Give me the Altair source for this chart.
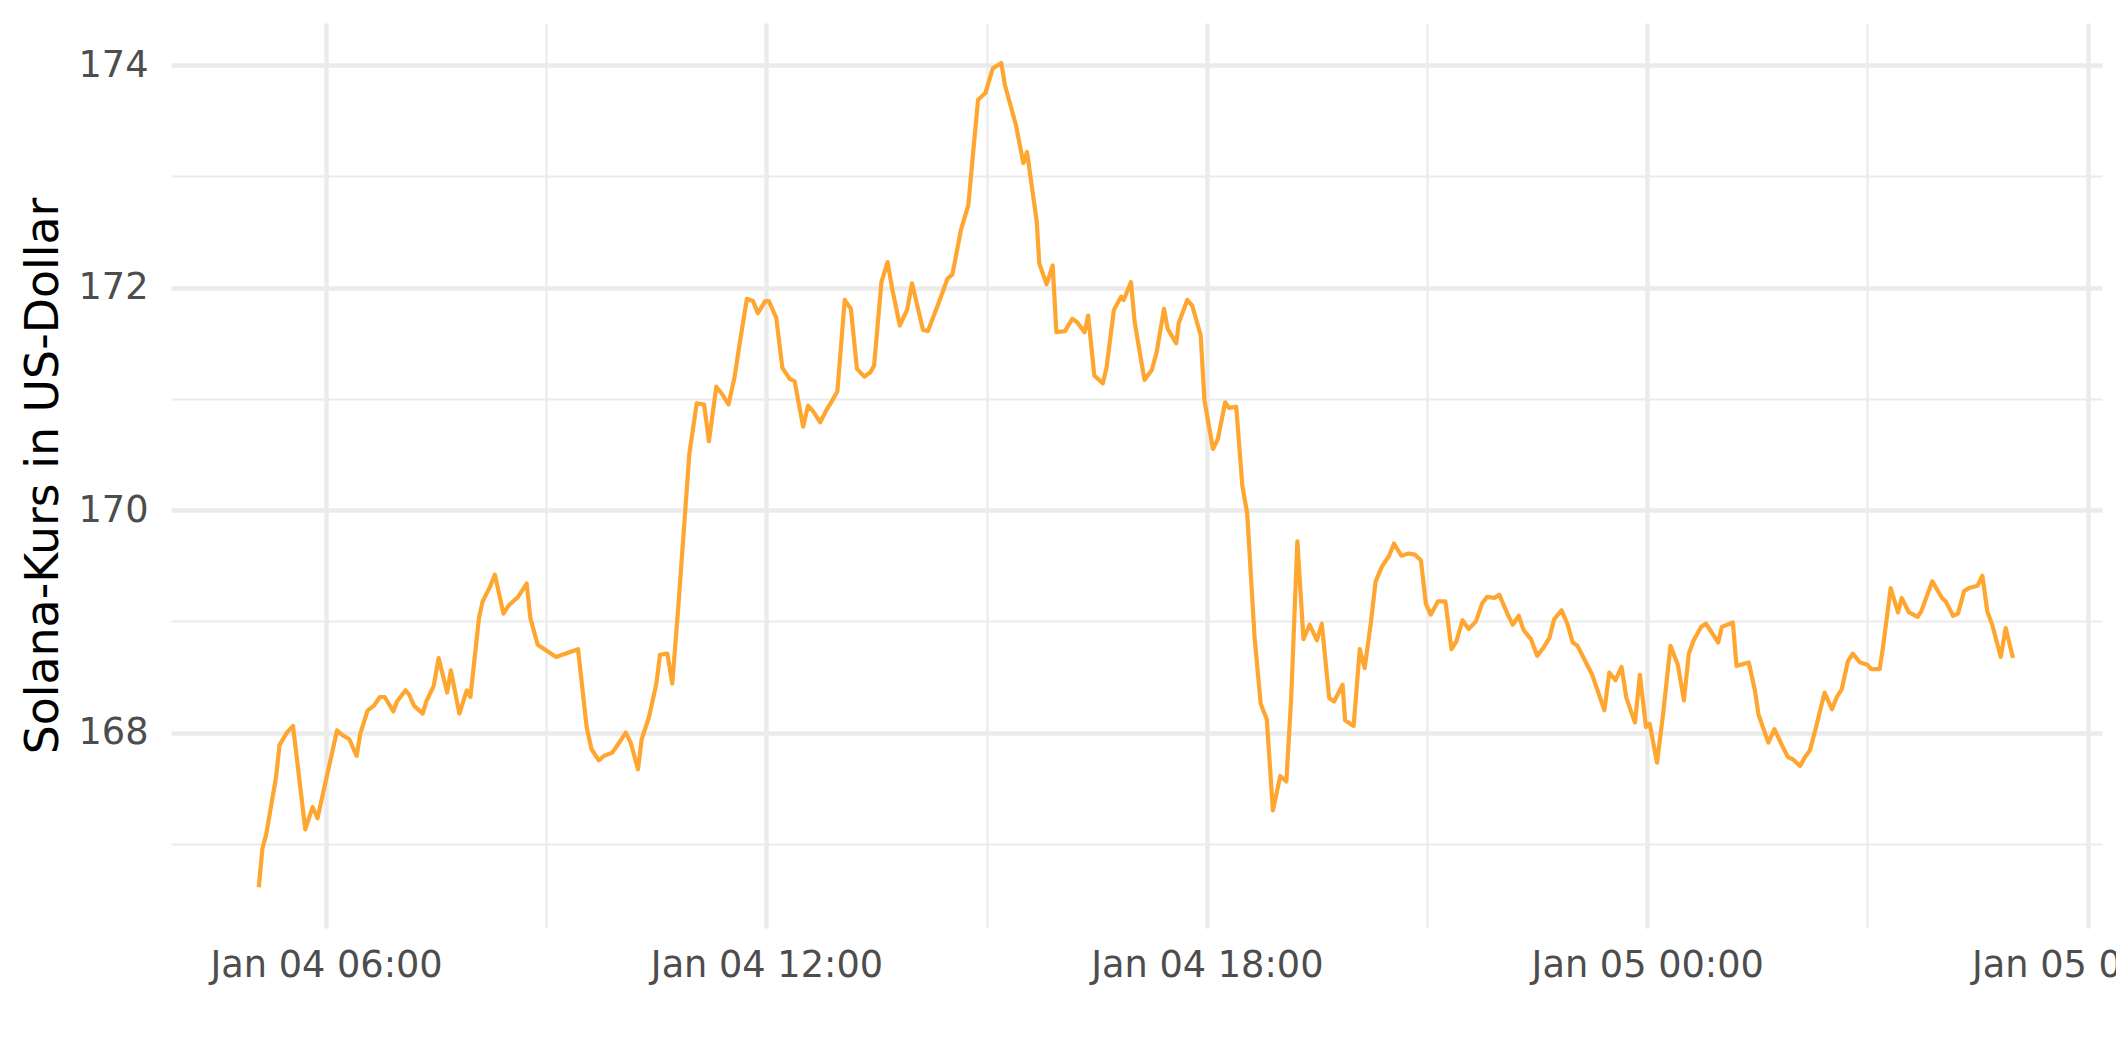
import altair as alt
import pandas as pd

# minutes after 2022-01-04 00:00 (local time)
minutes = [
    305, 308, 311, 319, 322, 328, 333, 343, 349, 353, 369, 373, 379, 385, 388, 394, 399, 404, 408, 415,
    418, 425, 428, 432, 439, 442, 448, 452, 459, 462, 469, 475, 478, 485, 488, 494, 498, 505, 509, 517,
    524, 527, 533, 548, 566,
    573, 577, 583, 587, 594, 599, 605, 609, 615, 618, 624, 630, 633, 639, 643, 648, 657, 663, 669, 673,
    679, 684, 689, 694, 698, 704, 709, 713, 719, 722, 728, 733, 739, 743, 750, 754, 758, 764, 769, 774,
    778, 784, 789, 794, 800, 805, 808, 814, 819, 823, 829, 835, 839, 848, 852, 860, 868, 872,
    879, 885, 889, 893, 899, 905, 912, 915, 924, 930, 933, 941, 943, 949, 954, 957, 964, 970, 974, 980,
    983, 988, 995, 998, 1004, 1010, 1012, 1018, 1021, 1029, 1035, 1039, 1045, 1048, 1055, 1057, 1064,
    1068, 1075, 1078, 1085, 1089, 1095, 1098, 1104, 1109,
    1113, 1119, 1124, 1129, 1134, 1140, 1145, 1149, 1154, 1159, 1164, 1170, 1174, 1180, 1184, 1191, 1193,
    1200, 1205, 1209, 1214, 1218, 1223, 1229, 1233, 1239, 1245, 1250, 1255, 1259, 1263, 1269, 1275, 1280,
    1284, 1289, 1294, 1300, 1305, 1309, 1315, 1319, 1326, 1330, 1335, 1339, 1345, 1350, 1355, 1360, 1364,
    1370, 1375, 1379, 1383, 1389, 1395,
    1400, 1405, 1409, 1414, 1419, 1423, 1430, 1434, 1439, 1442, 1448, 1453, 1459, 1465, 1470, 1474, 1478,
    1484, 1488, 1498, 1501, 1510, 1513, 1523, 1528, 1531, 1539, 1544, 1550, 1555, 1559, 1565, 1569, 1573,
    1578, 1585, 1591, 1595, 1599, 1604, 1608, 1614, 1620, 1623, 1630, 1633, 1639, 1645, 1648, 1654, 1661,
    1664, 1673, 1681, 1684, 1690, 1694, 1699, 1703, 1710, 1714, 1718, 1722, 1729, 1733, 1739,
]

kurs = [
    166.61, 166.96, 167.08, 167.59, 167.89, 168.00, 168.06, 167.13, 167.33, 167.23, 168.02, 167.98, 167.94,
    167.79, 167.99, 168.20, 168.24, 168.32, 168.32, 168.19, 168.28, 168.38, 168.34, 168.24, 168.17, 168.28,
    168.42, 168.67, 168.36, 168.56, 168.17, 168.38, 168.32, 169.03, 169.18, 169.31, 169.42, 169.07, 169.14,
    169.22, 169.34, 169.03, 168.79, 168.68, 168.75,
    168.05, 167.85, 167.75, 167.79, 167.82, 167.90, 168.00, 167.91, 167.67, 167.94, 168.14, 168.44, 168.70,
    168.71, 168.44, 169.14, 170.51, 170.96, 170.95, 170.62, 171.11, 171.04, 170.95, 171.20, 171.49, 171.90,
    171.88, 171.77, 171.88, 171.88, 171.73, 171.28, 171.18, 171.16, 170.75, 170.94, 170.89, 170.79, 170.90,
    170.99, 171.07, 171.89, 171.81, 171.27, 171.20, 171.24, 171.30, 172.05, 172.23, 171.98, 171.66, 171.80,
    172.04, 171.62, 171.61, 171.84, 172.08, 172.12,
    172.52, 172.74, 173.22, 173.69, 173.75, 173.97, 174.02, 173.82, 173.46, 173.12, 173.22, 172.59, 172.22,
    172.03, 172.20, 171.60, 171.61, 171.72, 171.69, 171.60, 171.75, 171.21, 171.14, 171.28, 171.80, 171.92,
    171.89, 172.05, 171.69, 171.17, 171.26, 171.42, 171.81, 171.63, 171.50, 171.68, 171.89, 171.84, 171.57,
    170.99, 170.55, 170.64, 170.97, 170.92, 170.93, 170.22,
    169.97, 168.86, 168.26, 168.12, 167.30, 167.61, 167.56, 168.32, 169.72, 168.84, 168.97, 168.83, 168.98,
    168.31, 168.28, 168.43, 168.11, 168.06, 168.75, 168.58, 168.98, 169.36, 169.49, 169.59, 169.70, 169.59,
    169.61, 169.60, 169.55, 169.16, 169.06, 169.18, 169.18, 168.75, 168.82, 169.01, 168.93, 169.00, 169.16,
    169.22, 169.21, 169.24, 169.06, 168.97, 169.05, 168.92, 168.84, 168.69, 168.76, 168.85, 169.02, 169.10,
    168.97, 168.81, 168.78, 168.65, 168.52,
    168.36, 168.20, 168.54, 168.47, 168.59, 168.31, 168.09, 168.52, 168.05, 168.08, 167.73, 168.17, 168.78,
    168.61, 168.29, 168.71, 168.83, 168.95, 168.98, 168.81, 168.95, 168.99, 168.60, 168.63, 168.38, 168.16,
    167.91, 168.03, 167.89, 167.78, 167.76, 167.70, 167.78, 167.84, 168.05, 168.36, 168.21, 168.32, 168.39,
    168.64, 168.71, 168.63, 168.61, 168.57, 168.57, 168.79, 169.30, 169.08, 169.21, 169.08, 169.04, 169.09,
    169.36, 169.21, 169.18, 169.05, 169.07, 169.27, 169.30, 169.32, 169.41, 169.09, 168.97, 168.68, 168.94,
    168.67,
]

y_ticks = [167, 168, 169, 170, 171, 172, 173, 174]
x_tick_hours = [6, 9, 12, 15, 18, 21, 24, 27, 30]
y_title = "Solana-Kurs in US-Dollar"

df = pd.DataFrame({
    "zeit": pd.Timestamp("2022-01-04") + pd.to_timedelta(minutes, unit="m"),
    "kurs": kurs,
})


def dt(h, m=0, s=0):
    return alt.DateTime(year=2022, month=1, date=4 + h // 24, hours=h % 24, minutes=m, seconds=s)


FONT = "DejaVu Sans"
GRID = "#EBEBEB"

x_axis = alt.Axis(
    values=[dt(h) for h in x_tick_hours],
    title=None,
    domain=False,
    ticks=False,
    tickSize=0,
    grid=True,
    gridColor=GRID,
    gridWidth={"condition": {"test": "hours(datum.value) % 6 == 0", "value": 4.4}, "value": 2.2},
    labelExpr="hours(datum.value) % 6 == 0 ? timeFormat(datum.value, '%b %d %H:%M') : ''",
    labelFont=FONT,
    labelFontSize=36.7,
    labelColor="#4D4D4D",
    labelBaseline="alphabetic",
    labelPadding=48,
    labelOverlap=False,
    labelFlush=False,
    labelBound=False,
    labelLimit=0,
)

y_axis = alt.Axis(
    values=y_ticks,
    title=y_title,
    domain=False,
    ticks=False,
    tickSize=0,
    grid=True,
    gridColor=GRID,
    gridWidth={"condition": {"test": "datum.value % 2 == 0", "value": 4.4}, "value": 2.2},
    labelExpr="datum.value % 2 == 0 ? datum.label : ''",
    labelFont=FONT,
    labelFontSize=36.7,
    labelColor="#4D4D4D",
    labelPadding=23,
    labelOverlap=False,
    labelLimit=0,
    titleFont=FONT,
    titleFontSize=45.8,
    titleFontWeight="normal",
    titleColor="#000000",
    titleAngle=270,
    titleAlign="center",
    titleBaseline="alphabetic",
    titleX=-114,
    titleY=452.5,
    titleLimit=0,
)

chart = (
    alt.Chart(df)
    .mark_line(color="#FFA630", strokeWidth=4.2, strokeJoin="round", strokeCap="butt")
    .encode(
        x=alt.X("zeit:T", scale=alt.Scale(domain=[dt(3, 53, 15), dt(30, 11, 45)], nice=False), axis=x_axis),
        y=alt.Y("kurs:Q", scale=alt.Scale(domain=[166.243, 174.38], nice=False, zero=False), axis=y_axis),
    )
    .properties(
        width=1931,
        height=905,
        autosize=alt.AutoSizeParams(type="none"),
        padding={"left": 163, "top": 15, "right": 14, "bottom": 80},
        background="#FFFFFF",
    )
    .configure_view(stroke="transparent")
)

chart.save("out.html", embed_options={"renderer": "svg", "actions": False})
